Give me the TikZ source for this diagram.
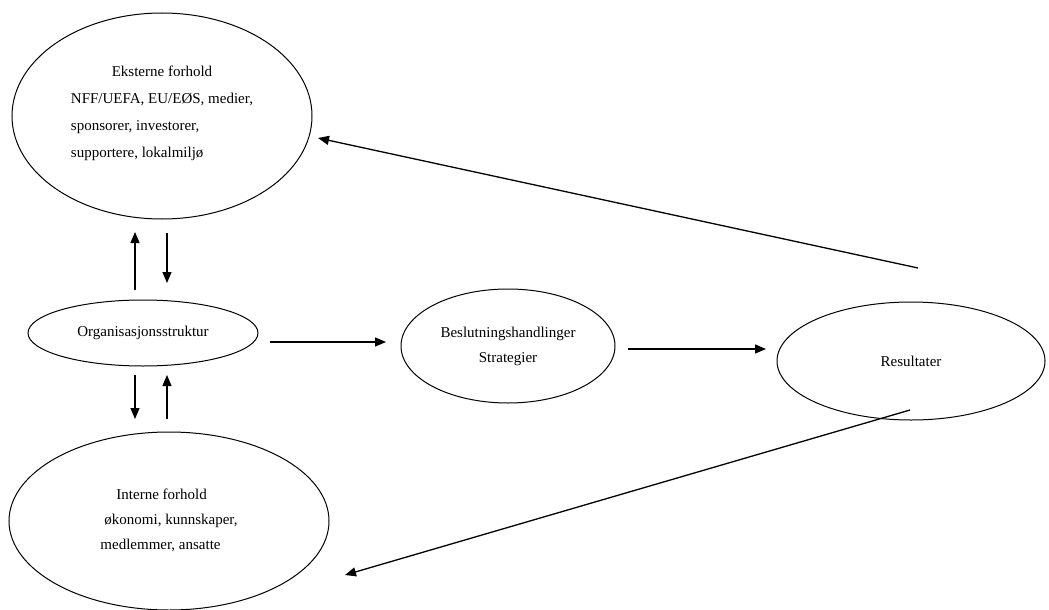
\documentclass[tikz,border=0pt]{standalone}
\usepackage{fontspec}
\setmainfont{Liberation Serif}
\usetikzlibrary{shapes.geometric,arrows.meta}
\begin{document}
\begin{tikzpicture}[x=1pt,y=-1pt,
  oval/.style={draw, ellipse, line width=1pt, inner sep=0pt},
  arr/.style={line width=1.3pt, -{Triangle[length=11pt,width=9pt]}},
  txt/.style={font=\fontsize{15}{27}\selectfont}]
\useasboundingbox[fill=white] (0,0) rectangle (1049,610);
\node[oval, minimum width=300pt, minimum height=206pt, txt] (ekst) at (162,116)
  {\begin{tabular}{@{}l@{}}\multicolumn{1}{@{}c@{}}{Eksterne forhold}\\
   NFF/UEFA, EU/EØS, medier,\\ sponsorer, investorer,\\ supportere, lokalmiljø\\[8pt]\end{tabular}};
\node[oval, minimum width=230pt, minimum height=66pt, txt] (org) at (143,333) {Organisasjonsstruktur};
\node[oval, minimum width=320pt, minimum height=178pt, font=\fontsize{15}{25}\selectfont] (int) at (169,521)
  {\begin{tabular}{@{}l@{}}\hspace*{16pt}Interne forhold\\
   \hspace*{4pt}økonomi, kunnskaper,\\ medlemmer, ansatte\\[4pt]\end{tabular}};
\node[oval, minimum width=214pt, minimum height=114pt, font=\fontsize{15}{25}\selectfont, align=center] (bes) at (508,346)
  {Beslutningshandlinger\\Strategier};
\node[oval, minimum width=268pt, minimum height=118pt, txt] (res) at (911,361) {Resultater};
% vertical arrows
\coordinate (a1s) at (135,290); \coordinate (a1e) at (135,232);
\coordinate (a2s) at (167,233); \coordinate (a2e) at (167,283);
\coordinate (a3s) at (135,375); \coordinate (a3e) at (135,419);
\coordinate (a4s) at (167,419); \coordinate (a4e) at (167,375);
\draw[arr] (a1s) -- (a1e);
\draw[arr] (a2s) -- (a2e);
\draw[arr] (a3s) -- (a3e);
\draw[arr] (a4s) -- (a4e);
% horizontal arrows
\coordinate (h1s) at (270,342); \coordinate (h1e) at (386,342);
\coordinate (h2s) at (628,349); \coordinate (h2e) at (766,349);
\draw[arr] (h1s) -- (h1e);
\draw[arr] (h2s) -- (h2e);
% feedback arrows
\coordinate (f1s) at (918,268); \coordinate (f1e) at (318,138);
\coordinate (f2s) at (910,410); \coordinate (f2e) at (345,575);
\draw[arr] (f1s) -- (f1e);
\draw[arr] (f2s) -- (f2e);
\end{tikzpicture}
\end{document}
